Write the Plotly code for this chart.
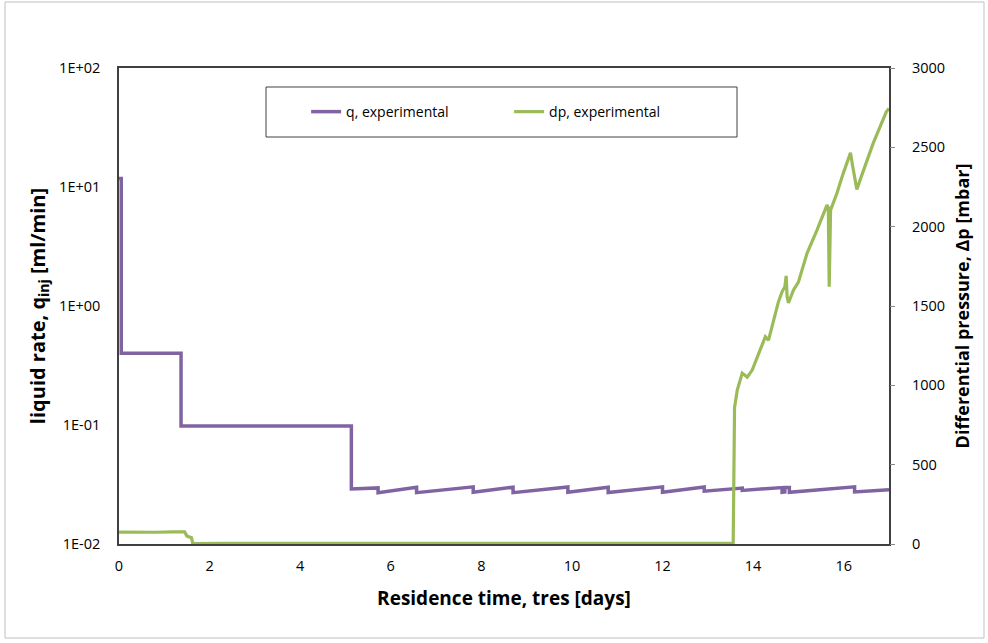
import plotly.graph_objects as go

# ---- data ----
q_t = [0.0, 0.05, 0.05, 1.37, 1.37, 5.13, 5.13, 5.72, 5.72, 6.57, 6.57, 7.82, 7.82,
       8.70, 8.70, 9.91, 9.91, 10.80, 10.80, 12.00, 12.00, 12.92, 12.92, 13.76, 13.76,
       14.64, 14.64, 14.70, 14.70, 14.80, 14.80, 16.24, 16.24, 17.0]
q_v = [11.8, 11.8, 0.40, 0.40, 0.098, 0.098, 0.0290, 0.0296, 0.0270, 0.0300, 0.0270, 0.0302, 0.0272,
       0.0300, 0.0270, 0.0301, 0.0272, 0.0300, 0.0271, 0.0302, 0.0272, 0.0301, 0.0278, 0.0295, 0.0282,
       0.0298, 0.0272, 0.0274, 0.0298, 0.0298, 0.0272, 0.0302, 0.0274, 0.0286]

dp_t = [0.0, 0.3, 0.8, 1.2, 1.45, 1.5, 1.6, 1.63, 2.26, 4.0, 6.0, 8.0, 10.0, 12.0, 13.56,
        13.59, 13.63, 13.65, 13.76, 13.87, 13.98, 14.16, 14.27, 14.34, 14.45, 14.56, 14.64,
        14.70, 14.73, 14.75, 14.78, 14.89, 15.00, 15.19, 15.41, 15.63, 15.66, 15.68, 15.71,
        15.85, 15.99, 16.15, 16.20, 16.29, 16.40, 16.65, 16.94, 17.0]
dp_v = [75, 73, 74, 76, 76, 50, 40, 2, 4, 4, 5, 5, 6, 6, 5,
        860, 950, 970, 1077, 1052, 1096, 1222, 1306, 1285, 1411, 1527, 1590,
        1620, 1690, 1560, 1520, 1600, 1650, 1832, 1978, 2136, 2120, 1621, 2104,
        2211, 2336, 2466, 2378, 2235, 2325, 2525, 2724, 2745]

x_ticks = [0, 2, 4, 6, 8, 10, 12, 14, 16]
q_ticks = [0.01, 0.1, 1, 10, 100]
q_tick_text = ["1E-02", "1E-01", "1E+00", "1E+01", "1E+02"]
dp_ticks = [0, 500, 1000, 1500, 2000, 2500, 3000]

PURPLE = "#8064A2"
GREEN = "#9BBB59"
AX = "#404040"
FONT = "Open Sans"
TICKFONT = dict(family=FONT, size=14.5, color="#000000")

fig = go.Figure()
fig.add_trace(go.Scatter(x=q_t, y=q_v, name="q, experimental", mode="lines",
                         line=dict(color=PURPLE, width=3.5), yaxis="y"))
fig.add_trace(go.Scatter(x=dp_t, y=dp_v, name="dp, experimental", mode="lines",
                         line=dict(color=GREEN, width=3.2), yaxis="y2"))

fig.update_layout(
    width=988, height=643,
    margin=dict(l=119, r=99, t=68, b=99),
    paper_bgcolor="white", plot_bgcolor="white",
    font=dict(family=FONT, size=14, color="#000000"),
    showlegend=True,
    legend=dict(orientation="h", x=0.243, y=0.9075, xanchor="left", yanchor="middle",
                bgcolor="rgba(0,0,0,0)", borderwidth=0, entrywidth=158,
                font=dict(family=FONT, size=14, color="#000000")),
    xaxis=dict(range=[0, 17], tickvals=x_ticks, showgrid=False, zeroline=False,
               showline=True, linecolor=AX, linewidth=1.5, mirror=True, ticks="",
               ticklabelstandoff=8, tickfont=TICKFONT,
               title=dict(text="<b>Residence time, tres [days]</b>", standoff=18,
                          font=dict(family=FONT, size=19))),
    yaxis=dict(type="log", range=[-2, 2], tickvals=q_ticks, ticktext=q_tick_text,
               showgrid=False, zeroline=False, showline=True, linecolor=AX, linewidth=1.5,
               mirror=True, ticks="", ticklabelstandoff=14, tickfont=TICKFONT,
               title=dict(text="<b>liquid rate, q<sub>inj</sub> [ml/min]</b>", standoff=8,
                          font=dict(family=FONT, size=20))),
    yaxis2=dict(overlaying="y", side="right", range=[0, 3000], tickvals=dp_ticks,
                showgrid=False, zeroline=False, showline=False, ticks="outside",
                ticklen=5, tickcolor="#868686", ticklabelstandoff=14, tickfont=TICKFONT,
                title=dict(text="<b>Differential pressure, Δp [mbar]</b>", standoff=12,
                           font=dict(family=FONT, size=18))),
    shapes=[
        dict(type="rect", xref="paper", yref="paper",
             x0=(266 - 119) / 770, x1=(737 - 119) / 770,
             y0=(544 - 137) / 476, y1=(544 - 87) / 476,
             line=dict(color="#404040", width=1), fillcolor="rgba(0,0,0,0)"),
        dict(type="rect", xref="paper", yref="paper",
             x0=(5 - 119) / 770, x1=(984 - 119) / 770,
             y0=(544 - 638) / 476, y1=(544 - 2) / 476,
             line=dict(color="#BFBFBF", width=1), fillcolor="rgba(0,0,0,0)"),
    ],
)

fig.write_html("out.html")
